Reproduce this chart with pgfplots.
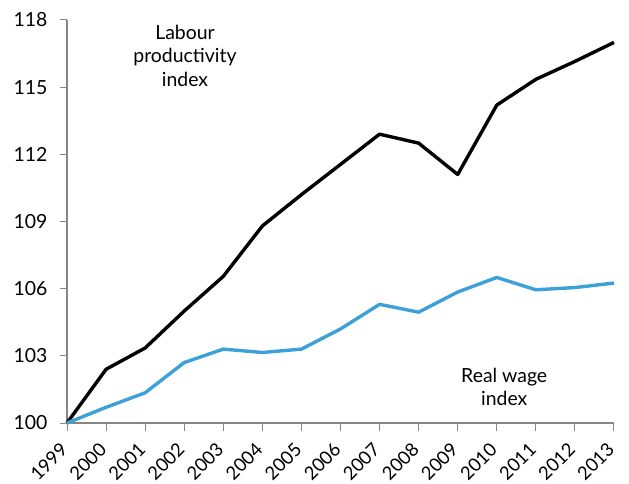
\documentclass[border=0pt]{standalone}
\usepackage{pgfplots}
\pgfplotsset{compat=1.18}
\usepackage{fontspec}
\setmainfont{Lato}
\definecolor{wageblue}{RGB}{59,161,214}
\definecolor{axgray}{RGB}{134,134,134}
\begin{document}
\begin{tikzpicture}
\useasboundingbox (-67bp,-61bp) rectangle (562bp,423bp);
\begin{axis}[
  at={(0,0)}, anchor=origin,
  scale only axis, width=547bp, height=403bp,
  xmin=1999, xmax=2013, ymin=100, ymax=118,
  xtick={1999,...,2013},
  ytick={100,103,106,109,112,115,118},
  xticklabels={1999,2000,2001,2002,2003,2004,2005,2006,2007,2008,2009,2010,2011,2012,2013},
  yticklabels={100,103,106,109,112,115,118},
  axis x line*=bottom, axis y line*=left,
  axis line style={axgray, line width=1.2pt, -},
  tick style={axgray, line width=1pt},
  tick align=outside,
  major tick length=7.5bp,
  xticklabel style={font=\fontsize{18.5}{18.5}\selectfont, anchor=east, inner sep=0pt, xshift=-3bp, yshift=-16bp, rotate=45},
  yticklabel style={font=\fontsize{19.5}{19.5}\selectfont, inner sep=0pt, xshift=-12bp},
  clip=false,
]
\addplot[black, line width=3.4bp, line join=round] coordinates {
(1999,100) (2000,102.4) (2001,103.35) (2002,105.0) (2003,106.55) (2004,108.8) (2005,110.2) (2006,111.55) (2007,112.9) (2008,112.5) (2009,111.1) (2010,114.2) (2011,115.35) (2012,116.15) (2013,117.0)};
\addplot[wageblue, line width=3.4bp, line join=round] coordinates {
(1999,100) (2000,100.7) (2001,101.35) (2002,102.7) (2003,103.3) (2004,103.15) (2005,103.3) (2006,104.2) (2007,105.3) (2008,104.95) (2009,105.85) (2010,106.5) (2011,105.95) (2012,106.05) (2013,106.25)};
\node[align=center, font=\fontsize{19.5}{23.5}\selectfont] at (axis cs:2002.02,116.4) {Labour\\productivity\\index};
\node[align=center, font=\fontsize{19.5}{23.5}\selectfont] at (axis cs:2010.19,101.6) {Real wage\\index};
\end{axis}
\end{tikzpicture}
\end{document}
